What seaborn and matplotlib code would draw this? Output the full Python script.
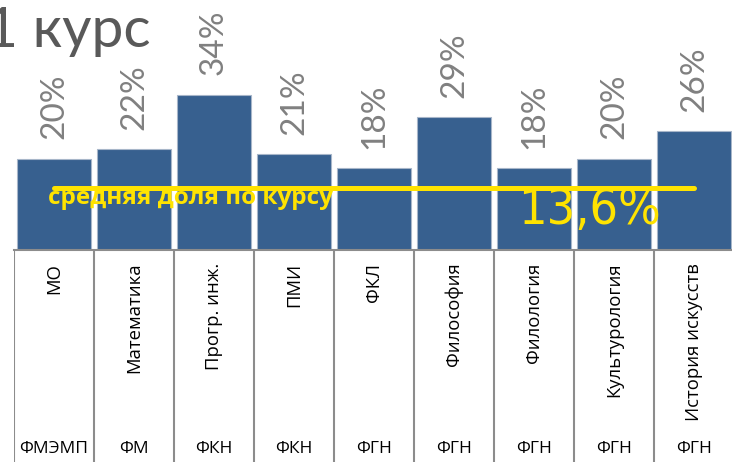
import numpy as np
import matplotlib
matplotlib.use("Agg")
import matplotlib.pyplot as plt
from matplotlib import font_manager
import seaborn as sns

# данные: доля по программам, 1 курс
programs = ["МО", "Математика", "Прогр. инж.", "ПМИ", "ФКЛ",
            "Философия", "Филология", "Культурология", "История искусств"]
faculties = ["ФМЭМП", "ФМ", "ФКН", "ФКН", "ФГН", "ФГН", "ФГН", "ФГН", "ФГН"]
shares = [20, 22, 34, 21, 18, 29, 18, 20, 26]
course_mean = 13.6

sns.set_theme(style="white")
plt.rcParams["font.family"] = ["Open Sans", "DejaVu Sans"]

# узкий шрифт для крупной цифры, если он есть
narrow_fonts = [f for f in font_manager.fontManager.ttflist
                if ("Narrow" in f.name or "Condensed" in f.name
                    or f.stretch in ("condensed", "semi-condensed",
                                     "extra-condensed"))
                and f.weight in (400, "normal", "regular")
                and f.style == "normal"]
if narrow_fonts:
    narrow = dict(fontproperties=font_manager.FontProperties(
        fname=narrow_fonts[0].fname, size=36))
else:
    narrow = dict(family=["Lato", "DejaVu Sans"], fontsize=35)

bar_color = "#37608f"
grey_line = "#8c8c8c"
yellow = "#ffe300"

fig = plt.figure(figsize=(7.32, 4.62), dpi=100)
W, H = 732, 462

# основная область со столбцами
ax = fig.add_axes([14 / W, 1 - 250 / H, 720 / W, 250 / H])
sns.barplot(x=programs, y=shares, color=bar_color, width=0.92,
            edgecolor="#a7b6c9", linewidth=0.8, saturation=1, ax=ax)
ax.set_xlim(-0.5, len(programs) - 0.5)
ax.set_ylim(0, 54.7)
ax.set_xlabel("")
ax.set_ylabel("")
ax.set_xticks([])
ax.set_yticks([])
for s in ["top", "right", "left"]:
    ax.spines[s].set_visible(False)
ax.spines["bottom"].set_color(grey_line)
ax.spines["bottom"].set_linewidth(1.5)

# подписи значений
for i, v in enumerate(shares):
    ax.text(i, v + 4.2, f"{v}%", rotation=90, ha="center", va="bottom",
            fontsize=24, color="#808080", family=["Lato", "DejaVu Sans"])

# средняя доля по курсу
ax.plot([0, len(programs) - 1], [course_mean, course_mean], color=yellow,
        lw=3.6, solid_capstyle="round", zorder=5)
ax.text(-0.07, course_mean - 2.2, "средняя доля по курсу", color=yellow,
        fontsize=17.5, fontweight="bold", ha="left", va="center", zorder=6)
ax.text(5.8, course_mean - 4.9, "13,6%", color=yellow,
        ha="left", va="center", zorder=6, **narrow)

# таблица подписей под осью
ax2 = fig.add_axes([14 / W, 0, 720 / W, 212 / H])
ax2.set_xlim(-0.5, len(programs) - 0.5)
ax2.set_ylim(0, 1)
ax2.axis("off")
bounds = np.arange(len(programs) + 1) - 0.5
ax2.vlines(bounds, 0, 1, color=grey_line, lw=1.5)
for i, (p, f) in enumerate(zip(programs, faculties)):
    ax2.text(i, 0.94, p, rotation=90, ha="center", va="top",
             fontsize=13.3, color="black")
    ax2.text(i, 0.06, f, ha="center", va="center", fontsize=12.5,
             color="black")

fig.text(-0.02, 1 - 47 / H, "1 курс", fontsize=41, color="#595959",
         ha="left", va="baseline", family=["Lato", "DejaVu Sans"])

fig.savefig("out.png", dpi=100)
